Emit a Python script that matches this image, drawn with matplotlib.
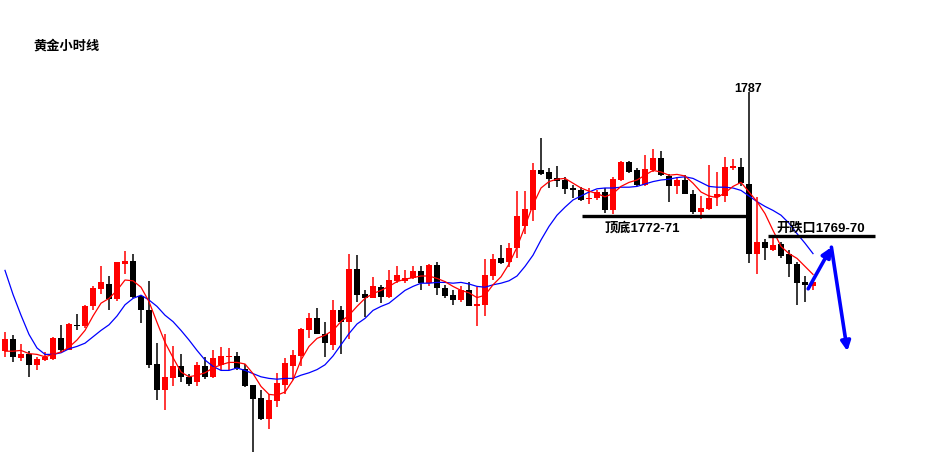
import numpy as np
import matplotlib
matplotlib.use('Agg')
import matplotlib.pyplot as plt

# gold, 1h candles (open, high, low, close)
o = [1754.6, 1756.1, 1753.8, 1754.2, 1752.9, 1753.5, 1753.6, 1756.3, 1754.8, 1757.8,
     1757.7, 1760.2, 1762.4, 1763.0, 1761.1, 1765.5, 1765.9, 1761.5, 1759.7, 1753.0,
     1749.7, 1751.3, 1752.7, 1751.4, 1750.7, 1752.7, 1751.4, 1752.9, 1753.9, 1754.0,
     1752.4, 1750.4, 1748.7, 1746.1, 1748.4, 1750.4, 1752.7, 1754.0, 1757.2, 1758.7,
     1756.8, 1755.4, 1759.8, 1758.2, 1764.9, 1761.7, 1761.3, 1762.6, 1761.4, 1763.4,
     1763.4, 1763.7, 1764.6, 1763.1, 1765.4, 1762.5, 1761.6, 1761.0, 1762.3, 1760.3,
     1760.4, 1764.0, 1766.2, 1765.7, 1767.5, 1770.2, 1772.2, 1777.2, 1777.0, 1776.2,
     1776.0, 1775.0, 1774.7, 1773.6, 1773.8, 1774.5, 1772.2, 1776.0, 1778.2, 1777.2,
     1775.4, 1777.2, 1778.8, 1776.5, 1775.2, 1776.0, 1774.3, 1772.0, 1772.4, 1773.9,
     1774.0, 1777.5, 1777.6, 1775.5, 1766.7, 1768.2, 1767.2, 1768.0, 1766.8, 1765.5,
     1763.2, 1762.7]
h = [1757.0, 1756.6, 1755.5, 1754.6, 1753.9, 1754.5, 1756.4, 1757.9, 1758.1, 1759.2,
     1760.4, 1762.7, 1765.2, 1764.0, 1765.8, 1767.1, 1766.7, 1761.6, 1763.4, 1755.6,
     1756.8, 1755.2, 1754.3, 1751.7, 1753.3, 1753.9, 1754.7, 1755.1, 1755.0, 1754.5,
     1753.0, 1750.4, 1749.7, 1749.2, 1751.9, 1753.7, 1754.7, 1757.5, 1759.4, 1760.0,
     1758.2, 1761.0, 1760.2, 1766.7, 1766.6, 1762.3, 1763.9, 1762.9, 1764.7, 1765.2,
     1764.7, 1765.2, 1765.2, 1765.5, 1765.7, 1762.9, 1762.2, 1762.7, 1763.2, 1762.6,
     1766.1, 1766.7, 1767.9, 1768.1, 1774.6, 1774.6, 1778.1, 1781.3, 1777.5, 1777.7,
     1776.4, 1775.4, 1775.1, 1775.0, 1774.7, 1775.0, 1776.4, 1778.4, 1778.4, 1777.5,
     1779.1, 1779.9, 1779.6, 1776.8, 1776.4, 1776.6, 1774.7, 1774.0, 1777.9, 1777.0,
     1778.9, 1778.6, 1778.7, 1787.0, 1773.9, 1768.6, 1769.0, 1768.2, 1767.2, 1765.7,
     1764.0, 1763.4]
l = [1753.9, 1753.3, 1753.4, 1751.4, 1752.2, 1753.4, 1753.5, 1754.5, 1754.7, 1757.3,
     1757.5, 1759.7, 1761.8, 1759.7, 1760.9, 1764.3, 1761.3, 1758.1, 1752.5, 1748.5,
     1747.2, 1750.2, 1750.8, 1750.2, 1750.2, 1751.1, 1751.2, 1752.2, 1752.2, 1752.2,
     1750.1, 1742.0, 1746.0, 1744.9, 1747.6, 1749.3, 1751.0, 1752.7, 1756.3, 1756.7,
     1753.9, 1754.7, 1754.3, 1756.1, 1760.7, 1758.9, 1761.2, 1760.6, 1761.2, 1763.1,
     1763.1, 1763.6, 1762.2, 1762.7, 1761.6, 1761.2, 1760.4, 1760.8, 1760.2, 1757.7,
     1759.0, 1763.5, 1765.5, 1765.1, 1766.3, 1769.3, 1770.9, 1776.6, 1775.0, 1775.1,
     1774.2, 1773.7, 1773.4, 1773.0, 1773.5, 1771.9, 1771.8, 1775.9, 1776.9, 1775.2,
     1775.2, 1777.0, 1776.5, 1773.3, 1774.3, 1774.2, 1771.7, 1771.1, 1772.2, 1772.8,
     1773.3, 1777.2, 1775.2, 1765.6, 1764.3, 1766.0, 1767.1, 1766.2, 1763.9, 1760.4,
     1760.8, 1762.2]
c = [1756.1, 1753.9, 1754.2, 1752.9, 1753.6, 1753.9, 1756.3, 1754.7, 1758.0, 1757.7,
     1760.2, 1762.5, 1763.2, 1761.1, 1765.7, 1765.9, 1761.4, 1759.7, 1752.9, 1749.7,
     1751.4, 1752.7, 1751.4, 1750.5, 1752.9, 1751.4, 1753.8, 1754.0, 1754.0, 1752.5,
     1750.2, 1748.6, 1746.1, 1748.5, 1750.6, 1753.1, 1754.1, 1757.4, 1758.7, 1756.8,
     1755.6, 1759.8, 1758.2, 1764.9, 1761.6, 1761.3, 1762.7, 1761.4, 1763.5, 1764.1,
     1763.8, 1764.6, 1763.1, 1765.4, 1762.5, 1761.5, 1761.0, 1762.3, 1760.3, 1760.5,
     1764.1, 1766.1, 1765.6, 1767.5, 1771.5, 1772.4, 1777.2, 1776.8, 1776.1, 1775.9,
     1774.9, 1774.7, 1773.5, 1773.8, 1774.5, 1772.2, 1776.1, 1778.3, 1777.0, 1775.4,
     1777.4, 1778.8, 1776.6, 1775.2, 1776.0, 1774.3, 1772.0, 1772.5, 1773.8, 1774.2,
     1777.6, 1777.7, 1775.6, 1766.7, 1768.2, 1767.5, 1767.9, 1766.5, 1765.5, 1763.1,
     1762.9, 1763.2]

# moving averages as shown on the chart
ma_fast = [1754.6, 1754.6, 1754.7, 1754.3, 1754.2, 1753.9, 1754.2, 1754.5, 1755.1, 1756.0,
           1757.2, 1759.0, 1760.6, 1761.2, 1762.2, 1763.5, 1763.4, 1762.6, 1760.8, 1758.2,
           1755.7, 1753.8, 1752.0, 1751.4, 1751.6, 1751.9, 1752.5, 1752.9, 1753.2, 1753.2,
           1753.0, 1751.8, 1750.2, 1749.2, 1749.1, 1749.5, 1751.0, 1753.5, 1755.2, 1756.2,
           1756.6, 1757.2, 1758.3, 1759.1, 1760.2, 1761.2, 1761.8, 1762.2, 1762.7, 1763.3,
           1763.6, 1763.8, 1764.0, 1764.0, 1763.7, 1763.3, 1762.7, 1762.2, 1761.9, 1761.3,
           1761.6, 1762.9, 1763.9, 1765.5, 1767.6, 1770.2, 1772.9, 1775.0, 1775.8, 1776.1,
           1776.2, 1775.6, 1775.0, 1774.6, 1774.3, 1773.9, 1774.3, 1775.2, 1775.7, 1776.0,
           1776.6, 1777.2, 1777.0, 1776.6, 1776.7, 1776.5, 1775.6, 1774.5, 1774.0, 1773.8,
           1774.4, 1775.2, 1775.7, 1774.5, 1773.3, 1771.8, 1769.7, 1767.7, 1766.8, 1766.2,
           1765.2, 1764.2]
ma_slow = [1764.7, 1761.7, 1759.1, 1756.7, 1755.0, 1754.2, 1754.2, 1754.4, 1754.9, 1755.2,
           1755.6, 1756.4, 1757.2, 1757.9, 1759.0, 1760.4, 1761.2, 1761.6, 1761.0, 1760.2,
           1759.1, 1758.3, 1757.2, 1756.0, 1754.7, 1753.5, 1752.7, 1752.2, 1752.2, 1752.5,
           1752.2, 1751.8, 1751.4, 1751.2, 1751.1, 1751.2, 1751.2, 1751.6, 1751.9, 1752.3,
           1752.9, 1754.0, 1755.4, 1756.8, 1758.0, 1758.7, 1759.7, 1760.2, 1760.6, 1761.4,
           1762.2, 1762.7, 1763.1, 1763.1, 1763.2, 1763.2, 1763.1, 1763.2, 1763.0, 1762.7,
           1762.6, 1762.9, 1763.1, 1763.4, 1764.0, 1765.2, 1766.6, 1768.5, 1770.2, 1771.6,
           1772.6, 1773.5, 1774.0, 1774.5, 1774.9, 1775.0, 1775.0, 1775.1, 1775.1, 1775.2,
           1775.5, 1775.8, 1776.0, 1776.1, 1776.3, 1776.4, 1776.2, 1775.7, 1775.2, 1775.1,
           1775.1, 1775.0, 1774.7, 1774.0, 1773.3, 1772.7, 1772.2, 1771.6, 1770.6, 1769.3,
           1768.1, 1766.8]

title = '黄金小时线'
top_label = '1787'
level1_label = '顶底1772-71'
level1 = 1771.55
level2_label = '开跌口1769-70'
level2 = 1769.0
# hand drawn forecast arrow (candle index, price)
arrow_pts = [(100.4, 1762.4), (103.3, 1767.6), (105.3, 1754.6)]

fonts = ['Liberation Sans', 'Noto Sans CJK SC', 'DejaVu Sans']

O = np.array(o)
H = np.array(h)
L = np.array(l)
C = np.array(c)
x = np.arange(len(O))
up = C >= O
col = np.where(up, '#ff0000', '#000000')

fig = plt.figure(figsize=(9.46, 4.62), dpi=100)
ax = fig.add_axes([0, 0, 1, 1])
ax.set_xlim(-0.625, 117.625)
ax.set_ylim(1740.75, 1798.5)
ax.axis('off')

ax.vlines(x, L, H, colors=col, linewidth=1.1, zorder=2)
body = np.maximum(np.abs(C - O), 0.16)
ax.bar(x, body, bottom=np.minimum(O, C), width=0.7, color=col, linewidth=0, zorder=3)

ax.plot(x, ma_slow, color='#0000ff', linewidth=0.9, zorder=4)
ax.plot(x, ma_fast, color='#ff0000', linewidth=0.9, zorder=4)

# support / breakdown levels
ax.hlines(level1, 72.1, 92.9, colors='black', linewidth=2.4, zorder=5)
ax.text(79.6, level1 - 1.55, level1_label, fontsize=9.5, fontweight='bold',
        family=fonts, ha='center', va='center', zorder=6)
ax.hlines(level2, 95.4, 108.75, colors='black', linewidth=2.4, zorder=5)
ax.text(96.4, level2 + 0.9, level2_label, fontsize=9.5, fontweight='bold',
        family=fonts, ha='left', va='center', zorder=6)

top_i = int(np.argmax(H))
ax.text(x[top_i] - 0.1, H[top_i] + 0.35, top_label, fontsize=9, fontweight='bold',
        family=fonts, ha='center', va='center', zorder=6)

for a, b in zip(arrow_pts[:-1], arrow_pts[1:]):
    ax.annotate('', xy=b, xytext=a,
                arrowprops=dict(arrowstyle='-|>', color='#0000ff', lw=2.6,
                                mutation_scale=14, shrinkA=0, shrinkB=0),
                zorder=7)

fig.text(33 / 946, 1 - 46 / 462, title, fontsize=9.5, fontweight='bold',
         family=fonts, ha='left', va='center')

fig.savefig('out.png', dpi=100, facecolor='white')
